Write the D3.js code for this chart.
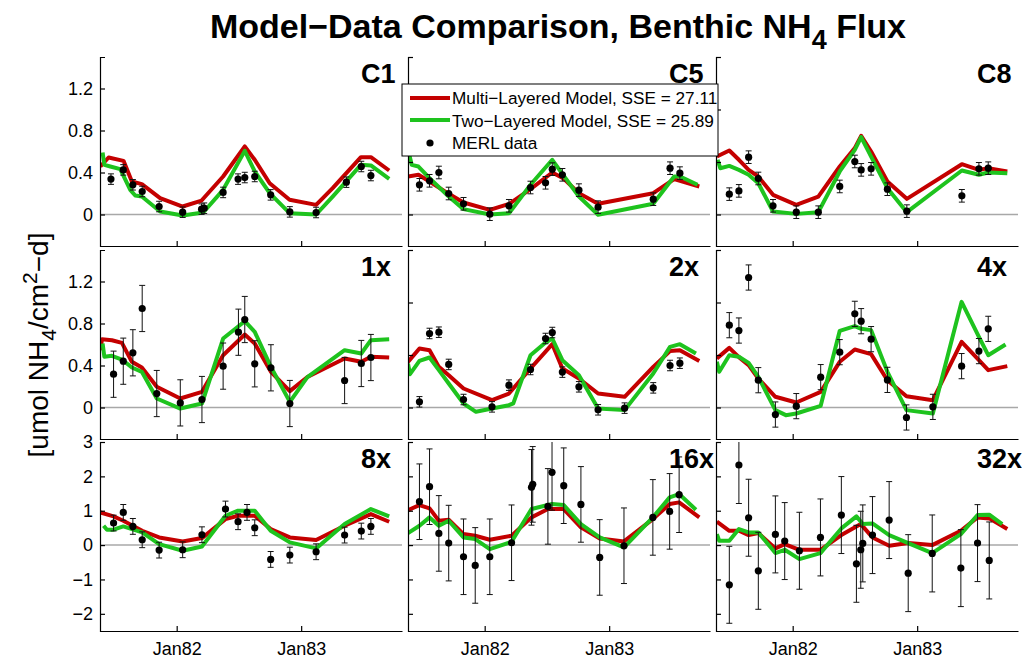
<!DOCTYPE html>
<html>
<head>
<meta charset="utf-8">
<script src="https://cdn.jsdelivr.net/npm/d3@7"></script>
<style>
body { margin: 0; background: #fff; }
text { font-family: "Liberation Sans", Arial, sans-serif; }
</style>
</head>
<body>
<svg id="chart"></svg>
<script>
// observations: [decimal year, value, error half-width]
var c1Obs = [[1981.472,0.337,0.05],[1981.571,0.425,0.05],[1981.648,0.283,0.05],[1981.723,0.219,0.05],[1981.859,0.076,0.05],[1982.048,0.022,0.05],[1982.200,0.051,0.05],[1982.221,0.060,0.05],[1982.373,0.210,0.05],[1982.493,0.337,0.05],[1982.547,0.352,0.05],[1982.627,0.362,0.05],[1982.755,0.187,0.05],[1982.909,0.025,0.05],[1983.120,0.019,0.05],[1983.363,0.308,0.05],[1983.483,0.457,0.05],[1983.560,0.371,0.05]];
var c5Obs = [[1981.476,0.283,0.06],[1981.557,0.321,0.06],[1981.632,0.400,0.06],[1981.711,0.200,0.06],[1981.830,0.102,0.06],[1982.041,0.003,0.06],[1982.195,0.083,0.06],[1982.368,0.257,0.06],[1982.489,0.302,0.06],[1982.543,0.432,0.06],[1982.624,0.378,0.06],[1982.757,0.232,0.06],[1982.911,0.070,0.06],[1983.354,0.146,0.06],[1983.489,0.441,0.06],[1983.568,0.394,0.06]];
var c8Obs = [[1981.491,0.194,0.06],[1981.568,0.225,0.06],[1981.646,0.546,0.06],[1981.724,0.343,0.06],[1981.842,0.083,0.06],[1982.029,0.022,0.06],[1982.206,0.022,0.06],[1982.378,0.267,0.06],[1982.499,0.505,0.06],[1982.550,0.425,0.06],[1982.630,0.435,0.06],[1982.761,0.241,0.06],[1982.917,0.032,0.06],[1983.359,0.178,0.06],[1983.496,0.435,0.06],[1983.571,0.441,0.06]];
var x1Obs = [[1981.493,0.317,0.22],[1981.571,0.441,0.22],[1981.648,0.521,0.22],[1981.723,0.943,0.22],[1981.840,0.133,0.22],[1982.029,0.044,0.22],[1982.203,0.076,0.22],[1982.373,0.394,0.22],[1982.496,0.717,0.22],[1982.547,0.838,0.22],[1982.627,0.416,0.22],[1982.757,0.378,0.22],[1982.909,0.038,0.22],[1983.349,0.257,0.22],[1983.483,0.419,0.22],[1983.560,0.476,0.22]];
var x2Obs = [[1981.476,0.054,0.05],[1981.557,0.705,0.05],[1981.632,0.717,0.05],[1981.711,0.410,0.05],[1981.830,0.076,0.05],[1982.059,0.006,0.05],[1982.195,0.213,0.05],[1982.368,0.362,0.05],[1982.489,0.657,0.05],[1982.543,0.714,0.05],[1982.624,0.337,0.05],[1982.757,0.197,0.05],[1982.911,-0.022,0.05],[1983.124,-0.006,0.05],[1983.354,0.187,0.05],[1983.489,0.400,0.05],[1983.568,0.422,0.05]];
var x4Obs = [[1981.491,0.784,0.12],[1981.568,0.733,0.12],[1981.646,1.238,0.12],[1981.724,0.260,0.12],[1981.861,-0.067,0.12],[1982.029,0.013,0.12],[1982.225,0.289,0.12],[1982.378,0.527,0.12],[1982.499,0.892,0.12],[1982.550,0.822,0.12],[1982.630,0.651,0.12],[1982.761,0.263,0.12],[1982.914,-0.095,0.12],[1983.126,0.006,0.12],[1983.357,0.394,0.12],[1983.496,0.537,0.12],[1983.571,0.749,0.12]];
var x8Obs = [[1981.493,0.641,0.23],[1981.571,0.951,0.23],[1981.648,0.544,0.23],[1981.723,0.155,0.23],[1981.859,-0.146,0.23],[1982.048,-0.136,0.23],[1982.203,0.301,0.23],[1982.392,1.049,0.23],[1982.493,0.680,0.23],[1982.565,0.951,0.23],[1982.627,0.505,0.23],[1982.755,-0.417,0.23],[1982.909,-0.291,0.23],[1983.120,-0.194,0.23],[1983.349,0.291,0.23],[1983.483,0.408,0.23],[1983.560,0.544,0.23]];
var x16Obs = [[1981.476,1.262,1.1],[1981.557,1.699,1.1],[1981.632,0.340,1.1],[1981.711,0.058,1.1],[1981.830,-0.340,1.1],[1981.924,-0.592,1.1],[1982.041,-0.340,1.1],[1982.216,0.068,1.1],[1982.376,1.680,1.1],[1982.386,1.767,1.1],[1982.508,1.126,1.1],[1982.541,2.117,1.1],[1982.635,1.728,1.1],[1982.773,1.184,1.1],[1982.924,-0.359,1.1],[1983.119,-0.019,1.1],[1983.351,0.806,1.1],[1983.486,0.981,1.1],[1983.562,1.466,1.1]];
var x32Obs = [[1981.491,-1.155,1.12],[1981.568,2.330,1.12],[1981.646,0.796,1.12],[1981.724,-0.748,1.12],[1981.861,0.311,1.12],[1981.936,0.117,1.12],[1982.054,-0.165,1.12],[1982.223,0.223,1.12],[1982.391,0.874,1.12],[1982.512,-0.544,1.12],[1982.547,-0.136,1.12],[1982.563,0.049,1.12],[1982.641,0.291,1.12],[1982.775,0.728,1.12],[1982.928,-0.816,1.12],[1983.121,-0.243,1.12],[1983.351,-0.670,1.12],[1983.485,0.058,1.12],[1983.579,-0.447,1.12]];

// multi-layered model: [decimal year, value]
var c1Multi = [[1981.387,0.457],[1981.453,0.543],[1981.573,0.511],[1981.640,0.314],[1981.720,0.289],[1981.867,0.156],[1982.048,0.076],[1982.200,0.133],[1982.373,0.362],[1982.547,0.648],[1982.627,0.521],[1982.747,0.298],[1982.907,0.140],[1983.120,0.092],[1983.253,0.251],[1983.480,0.546],[1983.560,0.546],[1983.707,0.419]];
var c5Multi = [[1981.384,0.362],[1981.468,0.378],[1981.557,0.314],[1981.711,0.197],[1981.830,0.114],[1982.041,0.044],[1982.197,0.102],[1982.368,0.241],[1982.543,0.400],[1982.630,0.346],[1982.757,0.203],[1982.911,0.102],[1983.354,0.203],[1983.522,0.337],[1983.724,0.267]];
var c8Multi = [[1981.391,0.552],[1981.491,0.610],[1981.568,0.521],[1981.646,0.425],[1981.724,0.362],[1981.842,0.187],[1982.029,0.092],[1982.206,0.171],[1982.378,0.457],[1982.499,0.632],[1982.550,0.749],[1982.630,0.600],[1982.761,0.314],[1982.917,0.149],[1983.359,0.479],[1983.496,0.425],[1983.571,0.441],[1983.724,0.410]];
var x1Multi = [[1981.387,0.546],[1981.400,0.650],[1981.480,0.641],[1981.560,0.616],[1981.640,0.435],[1981.720,0.381],[1981.840,0.197],[1982.029,0.086],[1982.203,0.149],[1982.373,0.498],[1982.547,0.695],[1982.627,0.610],[1982.757,0.340],[1982.909,0.156],[1983.050,0.290],[1983.349,0.467],[1983.483,0.435],[1983.560,0.483],[1983.707,0.476]];
var x2Multi = [[1981.384,0.435],[1981.476,0.562],[1981.557,0.546],[1981.632,0.387],[1981.711,0.308],[1981.830,0.181],[1982.059,0.070],[1982.195,0.133],[1982.368,0.371],[1982.543,0.603],[1982.624,0.371],[1982.757,0.276],[1982.911,0.133],[1983.124,0.102],[1983.354,0.387],[1983.489,0.537],[1983.568,0.546],[1983.724,0.444]];
var x4Multi = [[1981.391,0.467],[1981.491,0.568],[1981.568,0.480],[1981.646,0.403],[1981.724,0.276],[1981.861,0.102],[1982.029,0.048],[1982.225,0.149],[1982.378,0.435],[1982.499,0.552],[1982.630,0.508],[1982.761,0.260],[1982.914,0.108],[1983.126,0.070],[1983.357,0.625],[1983.496,0.451],[1983.571,0.356],[1983.724,0.394]];
var x8Multi = [[1981.387,0.951],[1981.493,0.835],[1981.571,0.709],[1981.723,0.417],[1981.859,0.223],[1982.048,0.107],[1982.203,0.204],[1982.392,0.757],[1982.493,0.854],[1982.627,0.854],[1982.755,0.466],[1982.909,0.223],[1983.120,0.146],[1983.349,0.563],[1983.560,0.903],[1983.707,0.680]];
var x16Multi = [[1981.384,1.019],[1981.476,1.165],[1981.557,1.068],[1981.632,0.709],[1981.711,0.738],[1981.830,0.320],[1981.924,0.272],[1982.041,0.155],[1982.216,0.272],[1982.376,0.806],[1982.508,1.049],[1982.635,1.049],[1982.773,0.515],[1982.924,0.194],[1983.119,0.107],[1983.351,0.757],[1983.486,1.194],[1983.562,1.243],[1983.724,0.806]];
var x32Multi = [[1981.391,0.680],[1981.491,0.417],[1981.568,0.417],[1981.646,0.291],[1981.724,0.350],[1981.861,-0.097],[1981.936,0.029],[1982.054,-0.136],[1982.223,-0.136],[1982.391,0.291],[1982.547,0.612],[1982.641,0.223],[1982.775,-0.019],[1982.928,0.058],[1983.121,0.000],[1983.351,0.417],[1983.485,0.806],[1983.579,0.777],[1983.724,0.466]];

// two-layered model: [decimal year, value]
var c1Two = [[1981.405,0.590],[1981.419,0.473],[1981.467,0.457],[1981.547,0.432],[1981.627,0.235],[1981.667,0.181],[1981.720,0.171],[1981.867,0.029],[1982.048,-0.010],[1982.213,0.019],[1982.373,0.235],[1982.547,0.606],[1982.627,0.410],[1982.747,0.203],[1982.907,0.013],[1983.120,0.000],[1983.253,0.171],[1983.480,0.473],[1983.560,0.467],[1983.707,0.340]];
var c5Two = [[1981.384,0.620],[1981.414,0.473],[1981.468,0.457],[1981.557,0.346],[1981.711,0.171],[1981.830,0.051],[1982.041,0.000],[1982.197,0.013],[1982.368,0.283],[1982.543,0.521],[1982.630,0.378],[1982.757,0.171],[1982.911,-0.003],[1983.354,0.102],[1983.522,0.362],[1983.570,0.362],[1983.710,0.283]];
var c8Two = [[1981.397,0.521],[1981.418,0.441],[1981.491,0.463],[1981.568,0.425],[1981.646,0.378],[1981.724,0.298],[1981.842,0.029],[1982.029,0.006],[1982.206,0.022],[1982.378,0.410],[1982.499,0.616],[1982.550,0.737],[1982.630,0.552],[1982.761,0.251],[1982.917,0.022],[1983.359,0.419],[1983.496,0.378],[1983.571,0.400],[1983.724,0.394]];
var x1Two = [[1981.405,0.610],[1981.419,0.483],[1981.480,0.492],[1981.560,0.457],[1981.640,0.381],[1981.720,0.340],[1981.840,0.086],[1982.029,-0.010],[1982.203,0.038],[1982.373,0.657],[1982.547,0.822],[1982.627,0.720],[1982.757,0.387],[1982.909,0.054],[1983.050,0.290],[1983.349,0.546],[1983.483,0.514],[1983.560,0.641],[1983.707,0.650]];
var x2Two = [[1981.384,0.419],[1981.400,0.317],[1981.476,0.444],[1981.557,0.476],[1981.632,0.356],[1981.711,0.229],[1981.830,0.038],[1981.930,-0.041],[1982.059,-0.010],[1982.195,0.022],[1982.230,0.040],[1982.368,0.498],[1982.489,0.620],[1982.543,0.657],[1982.624,0.451],[1982.757,0.308],[1982.911,-0.010],[1983.124,-0.025],[1983.354,0.324],[1983.489,0.578],[1983.568,0.603],[1983.697,0.514]];
var x4Two = [[1981.391,0.435],[1981.410,0.340],[1981.491,0.498],[1981.568,0.483],[1981.646,0.425],[1981.724,0.292],[1981.861,-0.025],[1981.945,-0.073],[1982.029,-0.057],[1982.225,0.016],[1982.378,0.730],[1982.499,0.775],[1982.550,0.749],[1982.630,0.737],[1982.761,0.340],[1982.914,-0.025],[1983.126,-0.057],[1983.357,1.006],[1983.496,0.673],[1983.571,0.498],[1983.710,0.600]];
var x8Two = [[1981.413,0.563],[1981.440,0.447],[1981.493,0.447],[1981.571,0.544],[1981.723,0.369],[1981.859,0.029],[1982.048,-0.165],[1982.203,-0.039],[1982.392,0.854],[1982.493,1.000],[1982.627,1.000],[1982.755,0.417],[1982.909,0.078],[1983.120,-0.097],[1983.349,0.612],[1983.560,1.049],[1983.707,0.835]];
var x16Two = [[1981.384,0.350],[1981.476,0.563],[1981.557,0.806],[1981.632,0.563],[1981.711,0.709],[1981.830,0.223],[1981.924,0.175],[1982.041,-0.117],[1982.216,0.097],[1982.376,1.049],[1982.508,1.165],[1982.541,1.194],[1982.635,1.165],[1982.773,0.612],[1982.924,0.223],[1983.119,-0.068],[1983.351,0.806],[1983.486,1.388],[1983.562,1.485],[1983.697,1.029]];
var x32Two = [[1981.391,0.320],[1981.410,0.126],[1981.491,0.126],[1981.568,0.466],[1981.646,0.369],[1981.724,0.369],[1981.861,-0.233],[1981.936,-0.136],[1982.054,-0.408],[1982.223,-0.233],[1982.391,0.485],[1982.512,0.835],[1982.563,0.612],[1982.641,0.631],[1982.775,0.291],[1982.928,0.058],[1983.121,-0.233],[1983.351,0.320],[1983.485,0.874],[1983.579,0.883],[1983.683,0.612]];

var panelNames = ["C1", "C5", "C8", "1x", "2x", "4x", "8x", "16x", "32x"];
var obsSets = [c1Obs, c5Obs, c8Obs, x1Obs, x2Obs, x4Obs, x8Obs, x16Obs, x32Obs];
var multiSets = [c1Multi, c5Multi, c8Multi, x1Multi, x2Multi, x4Multi, x8Multi, x16Multi, x32Multi];
var twoSets = [c1Two, c5Two, c8Two, x1Two, x2Two, x4Two, x8Two, x16Two, x32Two];

var xDomain = [1981.384, 1983.81];
var xTickVals = [1982, 1983];
var xTickLabels = ["Jan82", "Jan83"];
var yDomains = [[-0.3, 1.5], [-0.3, 1.5], [-2.5, 3]];
var leftTicks = [[0, 0.4, 0.8, 1.2], [0, 0.4, 0.8, 1.2], [-2, -1, 0, 1, 2, 3]];
var otherTicks = [[0, 0.5, 1, 1.5], [0, 0.5, 1, 1.5], [-2, -1, 0, 1, 2, 3]];
var legendLabels = ["Multi\u2212Layered Model, SSE = 27.11", "Two\u2212Layered Model, SSE = 25.89", "MERL data"];

var width = 1022;
var height = 660;
var colX = [100, 408, 716];
var rowY = [57, 250, 442];
var pw = 302, ph = 189;
var red = "#c40000", green = "#1ec31e";

var svg = d3.select("#chart")
    .attr("width", width)
    .attr("height", height);

svg.append("rect").attr("width", width).attr("height", height).attr("fill", "#fff");

var fmt = function(d) { return d < 0 ? "\u2212" + Math.abs(d) : String(d); };

panelNames.forEach(function(name, i) {
    var row = Math.floor(i / 3), col = i % 3;
    var x = d3.scaleLinear().domain(xDomain).range([0, pw]);
    var y = d3.scaleLinear().domain(yDomains[row]).range([ph, 0]);
    var g = svg.append("g").attr("transform", `translate(${colX[col]},${rowY[row]})`);

    g.append("clipPath").attr("id", "clip" + i)
        .append("rect").attr("width", pw).attr("height", ph);

    // zero line
    g.append("line")
        .attr("x1", 0).attr("x2", pw)
        .attr("y1", y(0)).attr("y2", y(0))
        .attr("stroke", "#a8a8a8").attr("stroke-width", 1.5);

    var plot = g.append("g").attr("clip-path", `url(#clip${i})`);
    var line = d3.line().x(d => x(d[0])).y(d => y(d[1]));

    plot.append("path").datum(multiSets[i])
        .attr("d", line).attr("fill", "none")
        .attr("stroke", red).attr("stroke-width", 4)
        .attr("stroke-linejoin", "round");
    plot.append("path").datum(twoSets[i])
        .attr("d", line).attr("fill", "none")
        .attr("stroke", green).attr("stroke-width", 4)
        .attr("stroke-linejoin", "round");

    var eb = plot.selectAll(".eb").data(obsSets[i]).enter().append("g")
        .attr("stroke", "#111").attr("stroke-width", 1);
    eb.append("line")
        .attr("x1", d => x(d[0])).attr("x2", d => x(d[0]))
        .attr("y1", d => y(d[1] - d[2])).attr("y2", d => y(d[1] + d[2]));
    eb.append("line")
        .attr("x1", d => x(d[0]) - 3).attr("x2", d => x(d[0]) + 3)
        .attr("y1", d => y(d[1] - d[2])).attr("y2", d => y(d[1] - d[2]));
    eb.append("line")
        .attr("x1", d => x(d[0]) - 3).attr("x2", d => x(d[0]) + 3)
        .attr("y1", d => y(d[1] + d[2])).attr("y2", d => y(d[1] + d[2]));
    plot.selectAll(".dot").data(obsSets[i]).enter().append("circle")
        .attr("cx", d => x(d[0])).attr("cy", d => y(d[1]))
        .attr("r", 3.6).attr("fill", "#000");

    // axes
    var yAxis = d3.axisLeft(y)
        .tickValues(col === 0 ? leftTicks[row] : otherTicks[row])
        .tickFormat(col === 0 ? fmt : () => "")
        .tickSizeInner(-5).tickSizeOuter(-5).tickPadding(7);
    var xAxis = d3.axisBottom(x)
        .tickValues(xTickVals)
        .tickFormat((d, k) => row === 2 ? xTickLabels[k] : "")
        .tickSizeInner(-5).tickSizeOuter(0).tickPadding(11);

    var ya = g.append("g").call(yAxis);
    var xa = g.append("g").attr("transform", `translate(0,${ph})`).call(xAxis);
    [ya, xa].forEach(function(a) {
        a.selectAll("path, line").attr("stroke", "#000").attr("stroke-width", 1.2);
        a.selectAll("text").attr("fill", "#000").style("font-size", "18px")
            .style("font-family", "'Liberation Sans', Arial, sans-serif");
    });

    g.append("text")
        .attr("x", 261).attr("y", 26)
        .style("font-size", "27px").style("font-weight", "bold")
        .text(name);
});

// title
var title = svg.append("text")
    .attr("x", 558).attr("y", 38)
    .attr("text-anchor", "middle")
    .style("font-size", "34px").style("font-weight", "bold");
title.append("tspan").text("Model\u2212Data Comparison, Benthic NH");
title.append("tspan").attr("dy", 11).style("font-size", "27px").text("4");
title.append("tspan").attr("dy", -11).text(" Flux");

// y label
var ylab = svg.append("text")
    .attr("transform", "translate(48,345) rotate(-90)")
    .attr("text-anchor", "middle")
    .style("font-size", "28px");
ylab.append("tspan").text("[umol NH");
ylab.append("tspan").attr("dy", 8).style("font-size", "21px").text("4");
ylab.append("tspan").attr("dy", -8).text("/cm");
ylab.append("tspan").attr("dy", -11).style("font-size", "21px").text("2");
ylab.append("tspan").attr("dy", 11).text("\u2212d]");

// legend
var lg = svg.append("g").attr("transform", "translate(402,84)");
lg.append("rect").attr("width", 316).attr("height", 72)
    .attr("fill", "#fff").attr("stroke", "#000").attr("stroke-width", 1);
[red, green].forEach(function(c, k) {
    lg.append("line")
        .attr("x1", 8).attr("x2", 48)
        .attr("y1", 14 + k * 22).attr("y2", 14 + k * 22)
        .attr("stroke", c).attr("stroke-width", 4);
});
lg.append("circle").attr("cx", 28).attr("cy", 59).attr("r", 3.6).attr("fill", "#000");
legendLabels.forEach(function(t, k) {
    lg.append("text")
        .attr("x", 50).attr("y", 20 + k * 22.5)
        .style("font-size", "17.2px")
        .text(t);
});
</script>
</body>
</html>
